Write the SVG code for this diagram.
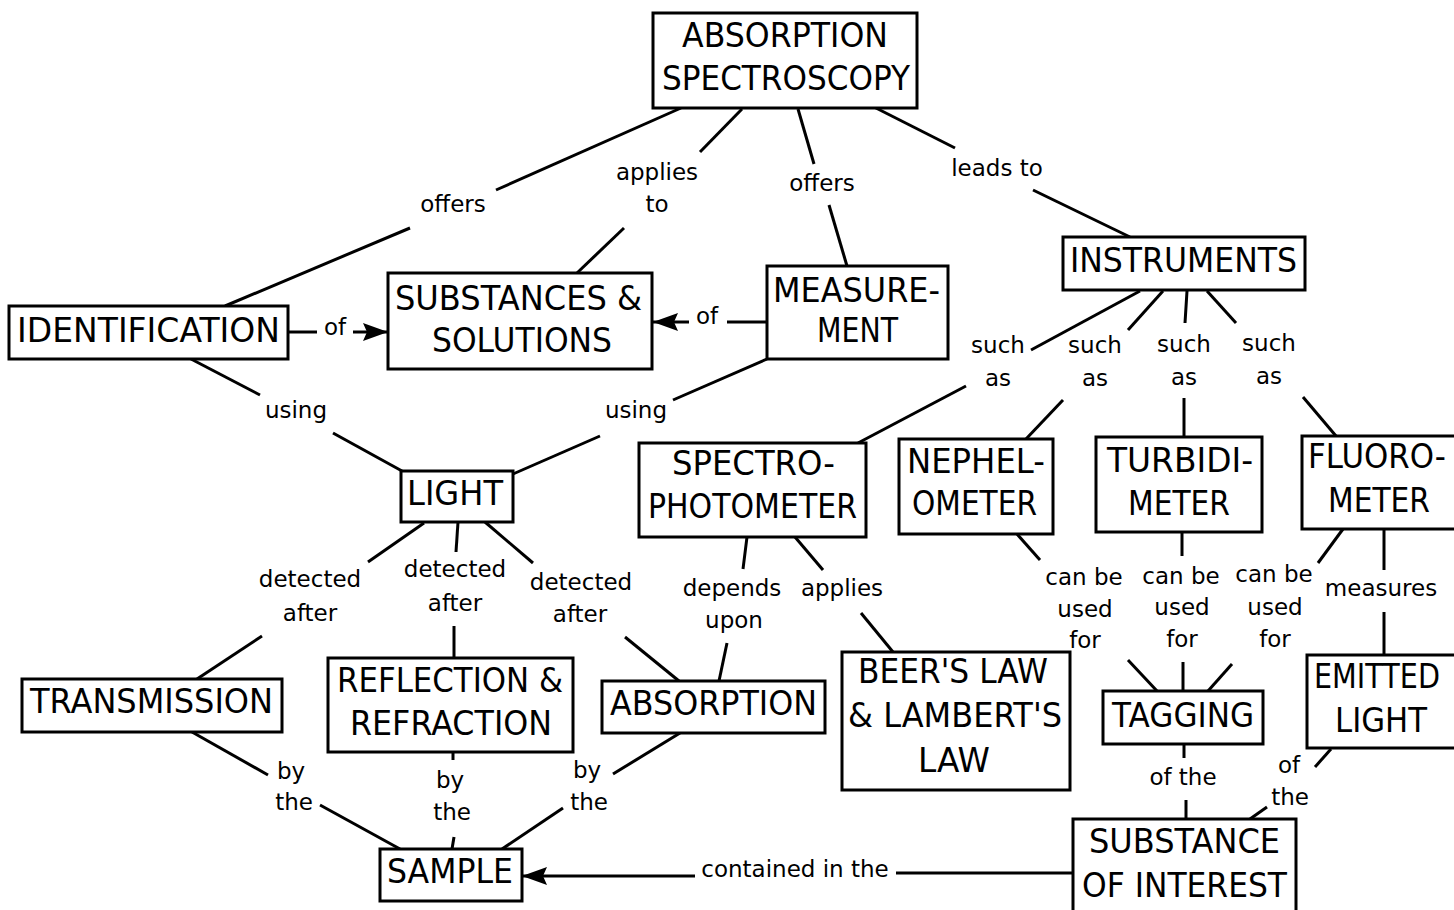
<svg xmlns="http://www.w3.org/2000/svg" width="1454" height="910" viewBox="0 0 1454 910">
  <style>
    .box { fill: #fff; stroke: #000; stroke-width: 3; }
    .nt { font-family: "DejaVu Sans", "Liberation Sans", sans-serif; font-size: 33px; fill: #000; text-anchor: middle; }
    .lb { font-family: "DejaVu Sans", "Liberation Sans", sans-serif; font-size: 23px; fill: #000; text-anchor: middle; }
    .ln { stroke: #000; stroke-width: 3; fill: none; stroke-linecap: butt; }
  </style>
  <defs>
    <marker id="arrow" markerUnits="userSpaceOnUse" markerWidth="26" markerHeight="20" viewBox="0 0 26 20" refX="25" refY="10" orient="auto">
      <path d="M25,10 L0,1 L4,10 L0,19 Z" fill="#000"/>
    </marker>
  </defs>
  <rect width="1454" height="910" fill="#fff"/>

  <!-- connectors and linking phrases -->
  <g id="connectors">
    <!-- absorption spectroscopy: offers identification -->
    <line class="ln" x1="681" y1="108" x2="496" y2="190"/>
    <line class="ln" x1="410" y1="228" x2="225" y2="306"/>
    <text class="lb" x="453" y="212">offers</text>
    <!-- applies to substances & solutions -->
    <line class="ln" x1="742" y1="109" x2="700" y2="152"/>
    <line class="ln" x1="624" y1="228" x2="577" y2="273"/>
    <text class="lb" x="657" y="180">applies</text>
    <text class="lb" x="657" y="212">to</text>
    <!-- offers measurement -->
    <line class="ln" x1="798" y1="109" x2="814" y2="164"/>
    <line class="ln" x1="829" y1="205" x2="847" y2="266"/>
    <text class="lb" x="822" y="191">offers</text>
    <!-- leads to instruments -->
    <line class="ln" x1="874" y1="107" x2="955" y2="148"/>
    <line class="ln" x1="1033" y1="190" x2="1130" y2="237"/>
    <text class="lb" x="997" y="176">leads to</text>

    <!-- identification of substances -->
    <line class="ln" x1="288" y1="332" x2="317" y2="332"/>
    <line class="ln" x1="353" y1="332" x2="388" y2="332" marker-end="url(#arrow)"/>
    <text class="lb" x="335" y="335">of</text>
    <!-- measurement of substances -->
    <line class="ln" x1="767" y1="322" x2="727" y2="322"/>
    <line class="ln" x1="689" y1="322" x2="653" y2="322" marker-end="url(#arrow)"/>
    <text class="lb" x="707" y="324">of</text>

    <!-- using light -->
    <line class="ln" x1="191" y1="359" x2="260" y2="395"/>
    <line class="ln" x1="333" y1="433" x2="402" y2="471"/>
    <text class="lb" x="296" y="418">using</text>
    <line class="ln" x1="767" y1="359" x2="673" y2="400"/>
    <line class="ln" x1="600" y1="436" x2="513" y2="474"/>
    <text class="lb" x="636" y="418">using</text>

    <!-- instruments such as -->
    <line class="ln" x1="1140" y1="291" x2="1031" y2="350"/>
    <line class="ln" x1="966" y1="386" x2="858" y2="443"/>
    <text class="lb" x="998" y="353">such</text>
    <text class="lb" x="998" y="386">as</text>
    <line class="ln" x1="1163" y1="291" x2="1128" y2="330"/>
    <line class="ln" x1="1063" y1="400" x2="1026" y2="439"/>
    <text class="lb" x="1095" y="353">such</text>
    <text class="lb" x="1095" y="386">as</text>
    <line class="ln" x1="1187" y1="291" x2="1185" y2="323"/>
    <line class="ln" x1="1184" y1="398" x2="1184" y2="437"/>
    <text class="lb" x="1184" y="352">such</text>
    <text class="lb" x="1184" y="385">as</text>
    <line class="ln" x1="1207" y1="291" x2="1236" y2="323"/>
    <line class="ln" x1="1303" y1="397" x2="1336" y2="436"/>
    <text class="lb" x="1269" y="351">such</text>
    <text class="lb" x="1269" y="384">as</text>

    <!-- light detected after -->
    <line class="ln" x1="424" y1="523" x2="368" y2="562"/>
    <line class="ln" x1="262" y1="636" x2="197" y2="679"/>
    <text class="lb" x="310" y="587">detected</text>
    <text class="lb" x="310" y="621">after</text>
    <line class="ln" x1="458" y1="522" x2="456" y2="552"/>
    <line class="ln" x1="454" y1="626" x2="454" y2="658"/>
    <text class="lb" x="455" y="577">detected</text>
    <text class="lb" x="455" y="611">after</text>
    <line class="ln" x1="485" y1="522" x2="533" y2="563"/>
    <line class="ln" x1="625" y1="637" x2="679" y2="681"/>
    <text class="lb" x="581" y="590">detected</text>
    <text class="lb" x="580" y="622">after</text>

    <!-- spectrophotometer -->
    <line class="ln" x1="747" y1="537" x2="743" y2="569"/>
    <line class="ln" x1="727" y1="643" x2="719" y2="681"/>
    <text class="lb" x="732" y="596">depends</text>
    <text class="lb" x="734" y="628">upon</text>
    <line class="ln" x1="795" y1="537" x2="823" y2="570"/>
    <line class="ln" x1="861" y1="613" x2="893" y2="652"/>
    <text class="lb" x="842" y="596">applies</text>

    <!-- can be used for tagging -->
    <line class="ln" x1="1017" y1="534" x2="1040" y2="560"/>
    <line class="ln" x1="1128" y1="660" x2="1157" y2="691"/>
    <text class="lb" x="1084" y="585">can be</text>
    <text class="lb" x="1085" y="617">used</text>
    <text class="lb" x="1085" y="648">for</text>
    <line class="ln" x1="1182" y1="532" x2="1182" y2="556"/>
    <line class="ln" x1="1183" y1="662" x2="1183" y2="691"/>
    <text class="lb" x="1181" y="584">can be</text>
    <text class="lb" x="1182" y="615">used</text>
    <text class="lb" x="1182" y="647">for</text>
    <line class="ln" x1="1343" y1="529" x2="1318" y2="563"/>
    <line class="ln" x1="1232" y1="664" x2="1208" y2="691"/>
    <text class="lb" x="1274" y="582">can be</text>
    <text class="lb" x="1275" y="615">used</text>
    <text class="lb" x="1275" y="647">for</text>

    <!-- fluorometer measures emitted light -->
    <line class="ln" x1="1384" y1="529" x2="1384" y2="570"/>
    <line class="ln" x1="1384" y1="612" x2="1384" y2="655"/>
    <text class="lb" x="1381" y="596">measures</text>

    <!-- of the substance of interest -->
    <line class="ln" x1="1184" y1="744" x2="1184" y2="758"/>
    <line class="ln" x1="1186" y1="800" x2="1186" y2="819"/>
    <text class="lb" x="1183" y="785">of the</text>
    <line class="ln" x1="1331" y1="749" x2="1315" y2="767"/>
    <line class="ln" x1="1267" y1="807" x2="1250" y2="819"/>
    <text class="lb" x="1289" y="773">of</text>
    <text class="lb" x="1290" y="805">the</text>

    <!-- by the sample -->
    <line class="ln" x1="192" y1="732" x2="268" y2="775"/>
    <line class="ln" x1="320" y1="805" x2="400" y2="849"/>
    <text class="lb" x="291" y="779">by</text>
    <text class="lb" x="294" y="810">the</text>
    <line class="ln" x1="453" y1="752" x2="453" y2="760"/>
    <line class="ln" x1="454" y1="837" x2="452" y2="849"/>
    <text class="lb" x="450" y="788">by</text>
    <text class="lb" x="452" y="820">the</text>
    <line class="ln" x1="680" y1="733" x2="613" y2="774"/>
    <line class="ln" x1="563" y1="808" x2="502" y2="849"/>
    <text class="lb" x="587" y="778">by</text>
    <text class="lb" x="589" y="810">the</text>

    <!-- contained in the sample -->
    <line class="ln" x1="1073" y1="873" x2="896" y2="873"/>
    <line class="ln" x1="695" y1="876" x2="522" y2="876" marker-end="url(#arrow)"/>
    <text class="lb" x="795" y="877">contained in the</text>
  </g>

  <!-- concept nodes -->
  <g id="absorption-spectroscopy">
    <rect class="box" x="653" y="13" width="264" height="95"/>
    <text class="nt" x="785" y="47" textLength="206" lengthAdjust="spacingAndGlyphs">ABSORPTION</text>
    <text class="nt" x="786" y="90" textLength="248" lengthAdjust="spacingAndGlyphs">SPECTROSCOPY</text>
  </g>
  <g id="identification">
    <rect class="box" x="9" y="306" width="279" height="53"/>
    <text class="nt" x="148.5" y="342" textLength="263" lengthAdjust="spacingAndGlyphs">IDENTIFICATION</text>
  </g>
  <g id="substances-solutions">
    <rect class="box" x="388" y="273" width="264" height="96"/>
    <text class="nt" x="518.5" y="310" textLength="247" lengthAdjust="spacingAndGlyphs">SUBSTANCES &amp;</text>
    <text class="nt" x="522" y="352" textLength="180" lengthAdjust="spacingAndGlyphs">SOLUTIONS</text>
  </g>
  <g id="measurement">
    <rect class="box" x="767" y="266" width="181" height="93"/>
    <text class="nt" x="856.5" y="302" textLength="167" lengthAdjust="spacingAndGlyphs">MEASURE-</text>
    <text class="nt" x="857.5" y="342" textLength="81" lengthAdjust="spacingAndGlyphs">MENT</text>
  </g>
  <g id="instruments">
    <rect class="box" x="1063" y="237" width="242" height="53"/>
    <text class="nt" x="1183.5" y="272" textLength="227" lengthAdjust="spacingAndGlyphs">INSTRUMENTS</text>
  </g>
  <g id="light">
    <rect class="box" x="401" y="471" width="112" height="51"/>
    <text class="nt" x="455" y="505" textLength="96" lengthAdjust="spacingAndGlyphs">LIGHT</text>
  </g>
  <g id="spectrophotometer">
    <rect class="box" x="639" y="443" width="227" height="94"/>
    <text class="nt" x="753.5" y="475" textLength="163" lengthAdjust="spacingAndGlyphs">SPECTRO-</text>
    <text class="nt" x="752.5" y="518" textLength="209" lengthAdjust="spacingAndGlyphs">PHOTOMETER</text>
  </g>
  <g id="nephelometer">
    <rect class="box" x="899" y="439" width="154" height="95"/>
    <text class="nt" x="976" y="473" textLength="138" lengthAdjust="spacingAndGlyphs">NEPHEL-</text>
    <text class="nt" x="974.5" y="515" textLength="125" lengthAdjust="spacingAndGlyphs">OMETER</text>
  </g>
  <g id="turbidimeter">
    <rect class="box" x="1096" y="437" width="166" height="95"/>
    <text class="nt" x="1180" y="472" textLength="146" lengthAdjust="spacingAndGlyphs">TURBIDI-</text>
    <text class="nt" x="1179" y="515" textLength="102" lengthAdjust="spacingAndGlyphs">METER</text>
  </g>
  <g id="fluorometer">
    <rect class="box" x="1302" y="436" width="160" height="93"/>
    <text class="nt" x="1377" y="468" textLength="138" lengthAdjust="spacingAndGlyphs">FLUORO-</text>
    <text class="nt" x="1379" y="512" textLength="102" lengthAdjust="spacingAndGlyphs">METER</text>
  </g>
  <g id="transmission">
    <rect class="box" x="22" y="679" width="260" height="53"/>
    <text class="nt" x="151.5" y="713" textLength="243" lengthAdjust="spacingAndGlyphs">TRANSMISSION</text>
  </g>
  <g id="reflection-refraction">
    <rect class="box" x="328" y="658" width="245" height="94"/>
    <text class="nt" x="450" y="692" textLength="226" lengthAdjust="spacingAndGlyphs">REFLECTION &amp;</text>
    <text class="nt" x="451" y="735" textLength="202" lengthAdjust="spacingAndGlyphs">REFRACTION</text>
  </g>
  <g id="absorption">
    <rect class="box" x="602" y="681" width="223" height="52"/>
    <text class="nt" x="713.5" y="715" textLength="207" lengthAdjust="spacingAndGlyphs">ABSORPTION</text>
  </g>
  <g id="beer-lambert-law">
    <rect class="box" x="842" y="652" width="228" height="138"/>
    <text class="nt" x="953" y="683" textLength="190" lengthAdjust="spacingAndGlyphs">BEER'S LAW</text>
    <text class="nt" x="955" y="727" textLength="214" lengthAdjust="spacingAndGlyphs">&amp; LAMBERT'S</text>
    <text class="nt" x="954" y="772" textLength="72" lengthAdjust="spacingAndGlyphs">LAW</text>
  </g>
  <g id="tagging">
    <rect class="box" x="1103" y="691" width="160" height="53"/>
    <text class="nt" x="1183" y="727" textLength="142" lengthAdjust="spacingAndGlyphs">TAGGING</text>
  </g>
  <g id="emitted-light">
    <rect class="box" x="1307" y="655" width="160" height="93"/>
    <text class="nt" x="1377" y="688" textLength="126" lengthAdjust="spacingAndGlyphs">EMITTED</text>
    <text class="nt" x="1381" y="732" textLength="92" lengthAdjust="spacingAndGlyphs">LIGHT</text>
  </g>
  <g id="sample">
    <rect class="box" x="380" y="849" width="142" height="52"/>
    <text class="nt" x="450" y="883" textLength="126" lengthAdjust="spacingAndGlyphs">SAMPLE</text>
  </g>
  <g id="substance-of-interest">
    <rect class="box" x="1073" y="819" width="223" height="110"/>
    <text class="nt" x="1184.5" y="853" textLength="191" lengthAdjust="spacingAndGlyphs">SUBSTANCE</text>
    <text class="nt" x="1184.5" y="897" textLength="205" lengthAdjust="spacingAndGlyphs">OF INTEREST</text>
  </g>
</svg>
